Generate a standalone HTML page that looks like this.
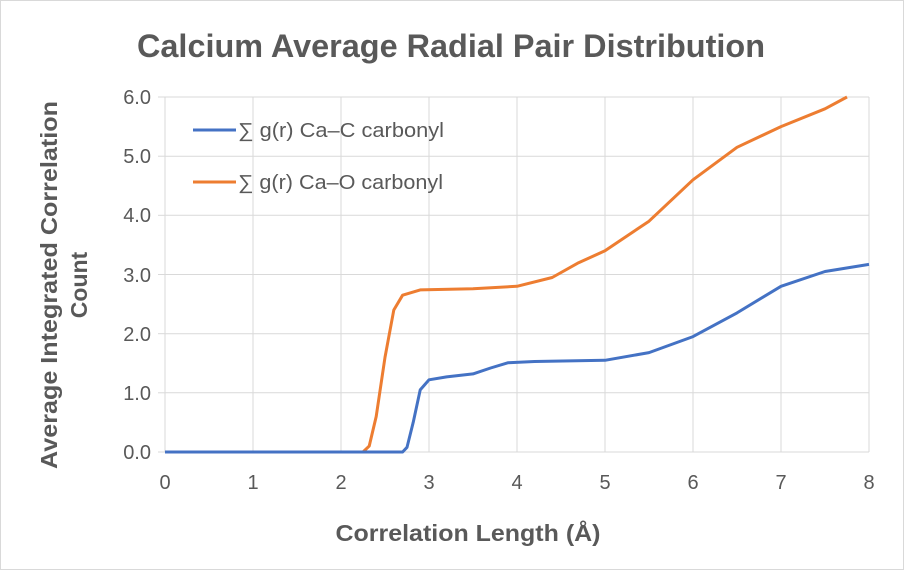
<!DOCTYPE html>
<html><head><meta charset="utf-8"><style>
body{margin:0;background:#fff}
svg{display:block}
text{font-family:"Liberation Sans",sans-serif;fill:#595959}
</style></head><body>
<svg width="904" height="570" viewBox="0 0 904 570">
<rect x="0.5" y="0.5" width="903" height="569" fill="#fff" stroke="#d9d9d9"/>
<text x="451" y="57" text-anchor="middle" font-size="32" font-weight="bold" textLength="628" lengthAdjust="spacingAndGlyphs">Calcium Average Radial Pair Distribution</text>
<g stroke="#d9d9d9" stroke-width="1">
<line x1="165" y1="97" x2="869" y2="97"/>
<line x1="165" y1="156.2" x2="869" y2="156.2"/>
<line x1="165" y1="215.3" x2="869" y2="215.3"/>
<line x1="165" y1="274.5" x2="869" y2="274.5"/>
<line x1="165" y1="333.7" x2="869" y2="333.7"/>
<line x1="165" y1="392.8" x2="869" y2="392.8"/>
<line x1="253" y1="97" x2="253" y2="452"/>
<line x1="341" y1="97" x2="341" y2="452"/>
<line x1="429" y1="97" x2="429" y2="452"/>
<line x1="517" y1="97" x2="517" y2="452"/>
<line x1="605" y1="97" x2="605" y2="452"/>
<line x1="693" y1="97" x2="693" y2="452"/>
<line x1="781" y1="97" x2="781" y2="452"/>
<line x1="869" y1="97" x2="869" y2="452"/>
<line x1="165" y1="97" x2="165" y2="452"/>
<line x1="158" y1="452" x2="869" y2="452"/>
<line x1="158" y1="97" x2="165" y2="97"/><line x1="158" y1="156.2" x2="165" y2="156.2"/><line x1="158" y1="215.3" x2="165" y2="215.3"/><line x1="158" y1="274.5" x2="165" y2="274.5"/><line x1="158" y1="333.7" x2="165" y2="333.7"/><line x1="158" y1="392.8" x2="165" y2="392.8"/>
</g>
<g font-size="20" text-anchor="end">
<text x="151" y="104">6.0</text><text x="151" y="163">5.0</text><text x="151" y="222">4.0</text><text x="151" y="282">3.0</text><text x="151" y="341">2.0</text><text x="151" y="400">1.0</text><text x="151" y="459">0.0</text>
</g>
<g font-size="20" text-anchor="middle">
<text x="165" y="489">0</text><text x="253" y="489">1</text><text x="341" y="489">2</text><text x="429" y="489">3</text><text x="517" y="489">4</text><text x="605" y="489">5</text><text x="693" y="489">6</text><text x="781" y="489">7</text><text x="869" y="489">8</text>
</g>
<text x="468" y="541" text-anchor="middle" font-size="23" font-weight="bold" textLength="265" lengthAdjust="spacingAndGlyphs">Correlation Length (Å)</text>
<text transform="translate(57,285) rotate(-90)" text-anchor="middle" font-size="23" font-weight="bold" textLength="368" lengthAdjust="spacingAndGlyphs">Average Integrated Correlation</text>
<text transform="translate(87,285) rotate(-90)" text-anchor="middle" font-size="23" font-weight="bold">Count</text>
<polyline fill="none" stroke="#ED7D31" stroke-width="3" stroke-linejoin="round" points="165,452 363,452 369.2,446.1 376.2,416.5 385,357.3 393.8,310 402.6,295.2 420.2,289.9 473,288.7 517,286.3 552.2,277.5 578.6,262.7 605,250.8 649,221.2 693,179.8 737,147.3 781,126.6 825,108.8 847,97"/>
<polyline fill="none" stroke="#4472C4" stroke-width="3" stroke-linejoin="round" points="165,452 402.6,452 407,447.3 413.2,422.4 420.2,389.9 429,379.8 446.6,376.9 473,373.9 490.6,368 508.2,362.7 534.6,361.5 605,360.3 649,352.6 693,336.6 737,312.9 781,286.3 825,271.5 869,264.4"/>
<line x1="193" y1="130" x2="236" y2="130" stroke="#4472C4" stroke-width="3"/>
<text x="238" y="137" font-size="20" textLength="206" lengthAdjust="spacingAndGlyphs">∑ g(r)  Ca–C carbonyl</text>
<line x1="193" y1="182" x2="236" y2="182" stroke="#ED7D31" stroke-width="3"/>
<text x="238" y="189" font-size="20" textLength="205" lengthAdjust="spacingAndGlyphs">∑ g(r) Ca–O carbonyl</text>
</svg>
</body></html>
